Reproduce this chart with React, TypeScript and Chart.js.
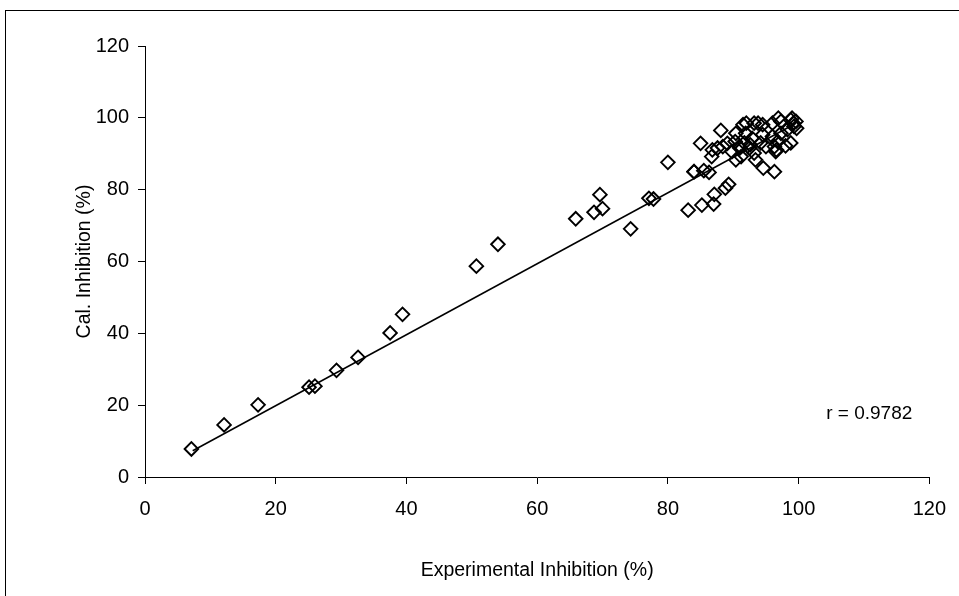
import React, { useEffect, useRef } from "react";
import { Chart, registerables } from "chart.js";

Chart.register(...registerables);

const experimental = [
  7.1, 12.1, 17.3, 25.1, 26.0, 29.3, 32.6, 37.5, 39.4,
  50.7, 54.0, 65.9, 68.7, 69.6, 70.0, 74.3, 77.1, 77.8, 80.0,
  83.1, 84.0, 85.2, 85.5, 86.3, 87.0, 87.1, 88.8, 89.3, 86.7, 86.8,
  85.0, 88.1, 87.6, 88.4, 89.1, 90.3,
  91.5, 93.2, 94.5, 96.0, 97.3, 98.8, 99.6, 99.3, 99.0, 96.9, 92.0, 93.8, 99.2, 99.7,
  90.4, 91.9, 92.9, 94.5, 96.0, 97.3, 98.3,
  90.9, 91.7, 92.5, 94.2, 95.0, 96.3, 96.8, 91.0, 92.6,
  89.8, 90.4, 91.2, 93.2, 93.4, 96.5, 96.6, 98.0,
  94.6, 96.3, 98.8, 84.0,
];
const calculated = [
  7.8, 14.5, 20.1, 25.0, 25.3, 29.7, 33.3, 40.1, 45.3,
  58.7, 64.8, 71.9, 73.7, 78.6, 74.7, 69.1, 77.6, 77.4, 87.6,
  74.3, 85.0, 75.7, 85.3, 84.8, 76.0, 78.7, 80.4, 81.5, 89.2, 91.1,
  92.9, 96.5, 91.6, 92.0, 92.9, 93.4,
  98.1, 98.5, 98.1, 98.5, 99.0, 99.4, 99.0, 97.6, 99.9, 99.9, 98.5, 98.5, 98.5, 97.1,
  95.7, 95.7, 94.3, 95.3, 94.8, 95.7, 96.7,
  92.0, 93.0, 91.6, 93.0, 92.0, 92.0, 93.4, 91.6, 92.5,
  90.6, 88.3, 89.2, 90.2, 88.3, 90.6, 91.1, 92.2,
  86.0, 85.0, 93.0, 85.0,
];
const trendX = [7.3, 99.6];
const trendY = [7.3, 98.5];
const xTicks = [0, 20, 40, 60, 80, 100, 120];
const yTicks = [0, 20, 40, 60, 80, 100, 120];
const xTitle = "Experimental Inhibition (%)";
const yTitle = "Cal. Inhibition (%)";
const rLabel = "r = 0.9782";

const FONT = "'Liberation Sans', Arial, sans-serif";

export default function App() {
  const ref = useRef<HTMLCanvasElement | null>(null);
  useEffect(() => {
    const canvas = ref.current;
    if (!canvas) return;
    const framePlugin = {
      id: "frame",
      beforeDraw(chart: any) {
        const ctx = chart.ctx;
        ctx.save();
        ctx.fillStyle = "#fff";
        ctx.fillRect(0, 0, chart.width, chart.height);
        ctx.strokeStyle = "#000";
        ctx.lineWidth = 1;
        ctx.strokeRect(5.5, 10.5, 2000, 2000);
        ctx.restore();
      },
      afterDatasetsDraw(chart: any) {
        const ctx = chart.ctx;
        const area = chart.chartArea;
        ctx.save();
        ctx.fillStyle = "#000";
        ctx.font = `19px ${FONT}`;
        ctx.textAlign = "right";
        ctx.textBaseline = "middle";
        ctx.fillText(rLabel, area.right - 17, area.bottom - 63);
        ctx.restore();
      },
    };
    const chart = new Chart(canvas, {
      type: "scatter",
      data: {
        datasets: [
          {
            label: "points",
            data: experimental.map((x, i) => ({ x, y: calculated[i] })),
            pointStyle: "rectRot",
            pointRadius: 6.8,
            pointBorderWidth: 1.9,
            borderColor: "#000",
            backgroundColor: "rgba(255,255,255,0)",
            showLine: false,
          },
          {
            label: "trend",
            data: trendX.map((x, i) => ({ x, y: trendY[i] })),
            showLine: true,
            borderColor: "#000",
            borderWidth: 1.5,
            pointRadius: 0,
            fill: false,
          },
        ],
      },
      options: {
        animation: false,
        responsive: false,
        devicePixelRatio: 1,
        layout: { padding: { left: 0, top: 46, right: 29, bottom: 0 } },
        plugins: { legend: { display: false }, tooltip: { enabled: false } },
        scales: {
          x: {
            type: "linear",
            min: 0,
            max: 120,
            afterBuildTicks(scale: any) {
              scale.ticks = xTicks.map((v) => ({ value: v }));
            },
            afterFit(scale: any) {
              scale.height = 119;
            },
            ticks: { color: "#000", font: { size: 20, family: FONT }, padding: 13 },
            grid: { drawOnChartArea: false, drawTicks: true, tickLength: 7, color: "#000", lineWidth: 1 },
            border: { display: true, color: "#000", width: 1 },
            title: { display: true, text: xTitle, color: "#000", font: { size: 19.5, family: FONT }, padding: { top: 0, bottom: 14 } },
          },
          y: {
            type: "linear",
            min: 0,
            max: 120,
            afterBuildTicks(scale: any) {
              scale.ticks = yTicks.map((v) => ({ value: v }));
            },
            afterFit(scale: any) {
              scale.width = 145;
            },
            ticks: { color: "#000", font: { size: 20, family: FONT }, padding: 9 },
            grid: { drawOnChartArea: false, drawTicks: true, tickLength: 7, color: "#000", lineWidth: 1 },
            border: { display: true, color: "#000", width: 1 },
            title: { display: true, text: yTitle, color: "#000", font: { size: 19.5, family: FONT }, padding: { top: 73, bottom: 0 } },
          },
        },
      },
      plugins: [framePlugin],
    } as any);
    return () => chart.destroy();
  }, []);
  return (
    <div style={{ position: "absolute", left: 0, top: 0, width: 959, height: 596, background: "#fff" }}>
      <canvas ref={ref} width={959} height={596} style={{ width: 959, height: 596, display: "block" }} />
    </div>
  );
}
